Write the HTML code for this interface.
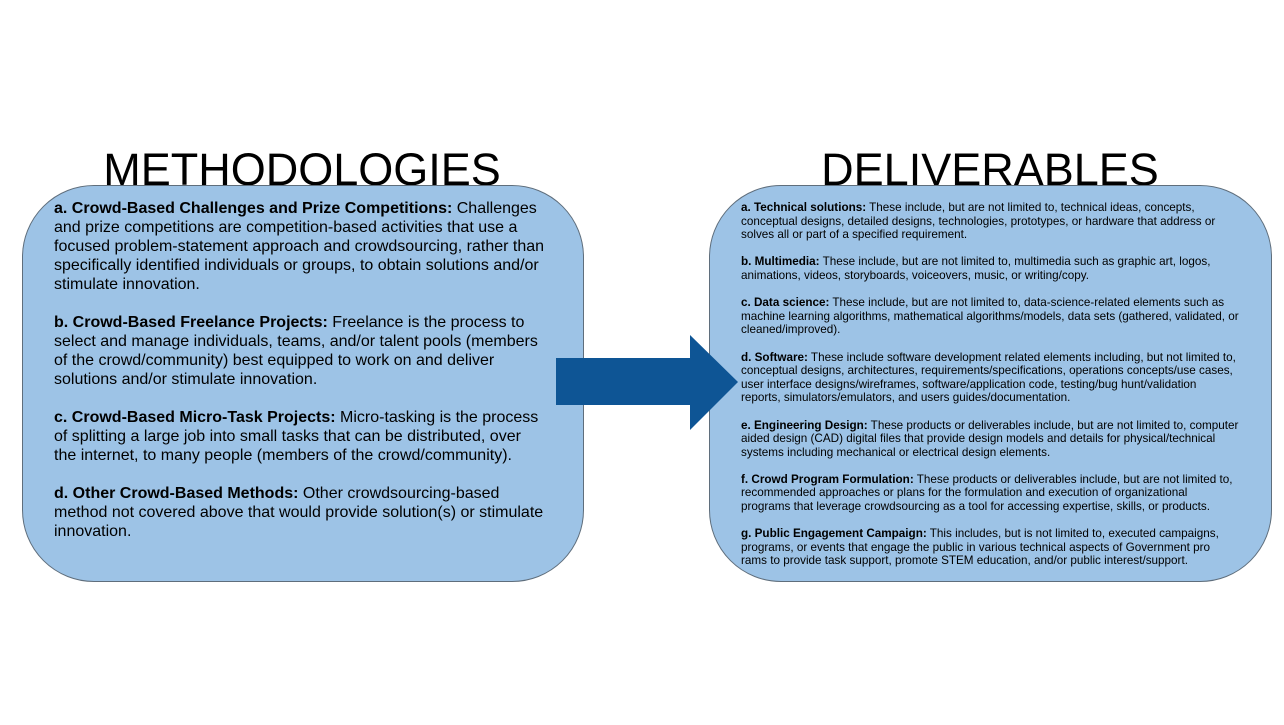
<!DOCTYPE html>
<html><head><style>
body{margin:0;width:1284px;height:725px;background:#fff;position:relative;overflow:hidden;font-family:"Liberation Sans",Arial,sans-serif;color:#000}
.t{position:absolute;font-size:45px;line-height:45px;white-space:nowrap;text-align:center}
.box{position:absolute;background:#9dc3e6;border:1.5px solid #5f6e7c;border-radius:72px;box-sizing:border-box}
.txt{position:absolute;white-space:nowrap}
.l{font-size:16px;line-height:19px}
.r{font-size:11.7px;line-height:13.6px}
.l p{margin:0 0 19px}
.r p{margin:0 0 13.6px}
</style></head><body>
<div class="t" style="left:52px;width:500px;top:147px">METHODOLOGIES</div>
<div class="t" style="left:740px;width:500px;top:147px">DELIVERABLES</div>
<div class="box" style="left:22px;top:185px;width:562px;height:397px"></div>
<div class="box" style="left:709px;top:185px;width:563px;height:397px"></div>
<svg style="position:absolute;left:0;top:0" width="1284" height="725"><polygon points="556,358 690,358 690,335 738,382 690,430 690,405 556,405" fill="#0e5595"/></svg>
<div class="txt l" style="left:54px;top:199px">
<p><b>a. Crowd-Based Challenges and Prize Competitions:</b> Challenges<br>and prize competitions are competition-based activities that use a<br>focused problem-statement approach and crowdsourcing, rather than<br>specifically identified individuals or groups, to obtain solutions and/or<br>stimulate innovation.</p>
<p><b>b. Crowd-Based Freelance Projects:</b> Freelance is the process to<br>select and manage individuals, teams, and/or talent pools (members<br>of the crowd/community) best equipped to work on and deliver<br>solutions and/or stimulate innovation.</p>
<p><b>c. Crowd-Based Micro-Task Projects:</b> Micro-tasking is the process<br>of splitting a large job into small tasks that can be distributed, over<br>the internet, to many people (members of the crowd/community).</p>
<p><b>d. Other Crowd-Based Methods:</b> Other crowdsourcing-based<br>method not covered above that would provide solution(s) or stimulate<br>innovation.</p>
</div>
<div class="txt r" style="left:741px;top:201px">
<p><b>a. Technical solutions:</b> These include, but are not limited to, technical ideas, concepts,<br>conceptual designs, detailed designs, technologies, prototypes, or hardware that address or<br>solves all or part of a specified requirement.</p>
<p><b>b. Multimedia:</b> These include, but are not limited to, multimedia such as graphic art, logos,<br>animations, videos, storyboards, voiceovers, music, or writing/copy.</p>
<p><b>c. Data science:</b> These include, but are not limited to, data-science-related elements such as<br>machine learning algorithms, mathematical algorithms/models, data sets (gathered, validated, or<br>cleaned/improved).</p>
<p><b>d. Software:</b> These include software development related elements including, but not limited to,<br>conceptual designs, architectures, requirements/specifications, operations concepts/use cases,<br>user interface designs/wireframes, software/application code, testing/bug hunt/validation<br>reports, simulators/emulators, and users guides/documentation.</p>
<p><b>e. Engineering Design:</b> These products or deliverables include, but are not limited to, computer<br>aided design (CAD) digital files that provide design models and details for physical/technical<br>systems including mechanical or electrical design elements.</p>
<p><b>f. Crowd Program Formulation:</b> These products or deliverables include, but are not limited to,<br>recommended approaches or plans for the formulation and execution of organizational<br>programs that leverage crowdsourcing as a tool for accessing expertise, skills, or products.</p>
<p><b>g. Public Engagement Campaign:</b> This includes, but is not limited to, executed campaigns,<br>programs, or events that engage the public in various technical aspects of Government pro<br>rams to provide task support, promote STEM education, and/or public interest/support.</p>
</div>
</body></html>
